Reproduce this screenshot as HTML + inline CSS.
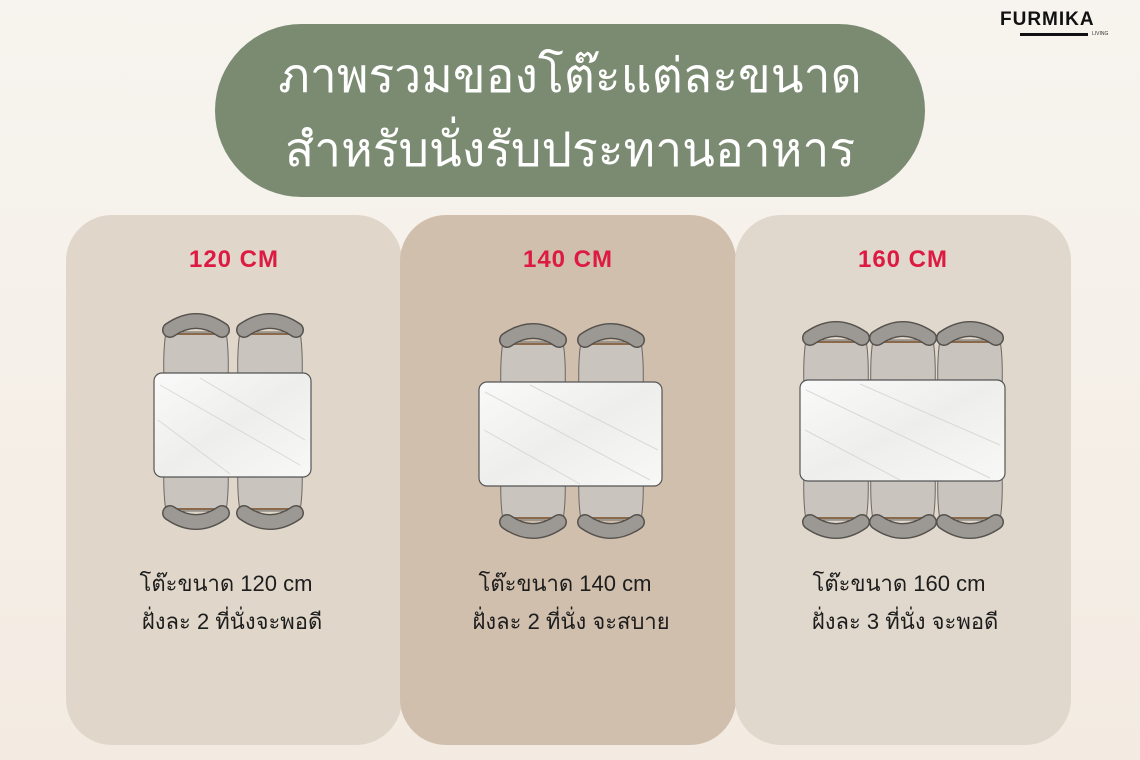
<!DOCTYPE html>
<html><head><meta charset="utf-8"><style>
body{margin:0;width:1140px;height:760px;overflow:hidden;background:linear-gradient(#f7f4ef,#f3ebe2);font-family:"Liberation Sans","Noto Sans CJK SC",sans-serif;position:relative}
.pill{position:absolute;left:215px;top:24px;width:710px;height:173px;border-radius:87px;background:#7b8b72;color:#fff;text-align:center;font-size:48px;line-height:74px;padding-top:16px;box-sizing:border-box}
.panel{position:absolute;top:215px;height:530px;width:336px;border-radius:46px}
.h{position:absolute;top:246px;width:336px;text-align:center;color:#dd1a42;font-weight:bold;font-size:24px;letter-spacing:1px}
.d{position:absolute;top:565px;width:336px;text-align:center;color:#1d1d1d;font-size:22px;line-height:38px}
.logo{position:absolute;left:1000px;top:9px;font-weight:bold;font-size:19px;letter-spacing:1px;color:#111}
</style></head><body>
<div class="logo">FURMIKA</div>
<div style="position:absolute;left:1020px;top:33px;width:68px;height:3px;background:#111"></div>
<div style="position:absolute;left:1092px;top:31px;font-size:5px;color:#333">LIVING</div>
<div class="pill">ภาพรวมของโต๊ะแต่ละขนาด<br>สำหรับนั่งรับประทานอาหาร</div>
<div class="panel" style="left:66px;background:#e0d7ca"></div>
<div class="panel" style="left:400px;background:#d0bfad"></div>
<div class="panel" style="left:735px;background:#e0d8cc"></div>
<div class="h" style="left:66px">120 CM</div>
<div class="h" style="left:400px">140 CM</div>
<div class="h" style="left:735px">160 CM</div>
<div class="d" style="left:58px">โต๊ะขนาด 120 cm<br>&nbsp;&nbsp;ฝั่งละ 2 ที่นั่งจะพอดี</div>
<div class="d" style="left:397px">โต๊ะขนาด 140 cm<br>&nbsp;&nbsp;ฝั่งละ 2 ที่นั่ง จะสบาย</div>
<div class="d" style="left:731px">โต๊ะขนาด 160 cm<br>&nbsp;&nbsp;ฝั่งละ 3 ที่นั่ง จะพอดี</div>
<svg width="1140" height="760" style="position:absolute;left:0;top:0">
<defs>
<g id="ch">
<path d="M3,22 L63,22 Q67,45 64,90 L2,90 Q-1,45 3,22Z" fill="#c9c4be" stroke="#6d6863" stroke-width="1"/>
<path d="M8,24 L58,24" stroke="#8a6a4a" stroke-width="2"/>
<path d="M7,20 Q33,2 59,20" fill="none" stroke="#55514d" stroke-width="16" stroke-linecap="round"/>
<path d="M7,20 Q33,2 59,20" fill="none" stroke="#9c9894" stroke-width="13" stroke-linecap="round"/>
</g>
<linearGradient id="m" x1="0" y1="0" x2="1" y2="1"><stop offset="0" stop-color="#fafafa"/><stop offset="0.5" stop-color="#eeeeec"/><stop offset="1" stop-color="#f8f8f7"/></linearGradient>
</defs>
<use href="#ch" x="163" y="310"/><use href="#ch" x="237" y="310"/>
<g transform="translate(0,843) scale(1,-1)"><use href="#ch" x="163" y="310"/><use href="#ch" x="237" y="310"/></g>
<rect x="154" y="373" width="157" height="104" rx="8" fill="url(#m)" stroke="#555" stroke-width="1.2"/>
<use href="#ch" x="500" y="320"/><use href="#ch" x="578" y="320"/>
<g transform="translate(0,862) scale(1,-1)"><use href="#ch" x="500" y="320"/><use href="#ch" x="578" y="320"/></g>
<rect x="479" y="382" width="183" height="104" rx="8" fill="url(#m)" stroke="#555" stroke-width="1.2"/>
<use href="#ch" x="803" y="318"/><use href="#ch" x="870" y="318"/><use href="#ch" x="937" y="318"/>
<g transform="translate(0,860) scale(1,-1)"><use href="#ch" x="803" y="318"/><use href="#ch" x="870" y="318"/><use href="#ch" x="937" y="318"/></g>
<rect x="800" y="380" width="205" height="101" rx="8" fill="url(#m)" stroke="#555" stroke-width="1.2"/>
<g stroke="#d4d2cc" stroke-width="1" fill="none" opacity="0.8">
<path d="M160,385 L300,465 M200,378 L305,440 M158,420 L230,474"/>
<path d="M485,392 L650,480 M530,385 L658,450 M484,430 L580,484"/>
<path d="M806,390 L990,478 M860,384 L1000,445 M805,430 L900,480"/>
</g>
</svg>
</body></html>
